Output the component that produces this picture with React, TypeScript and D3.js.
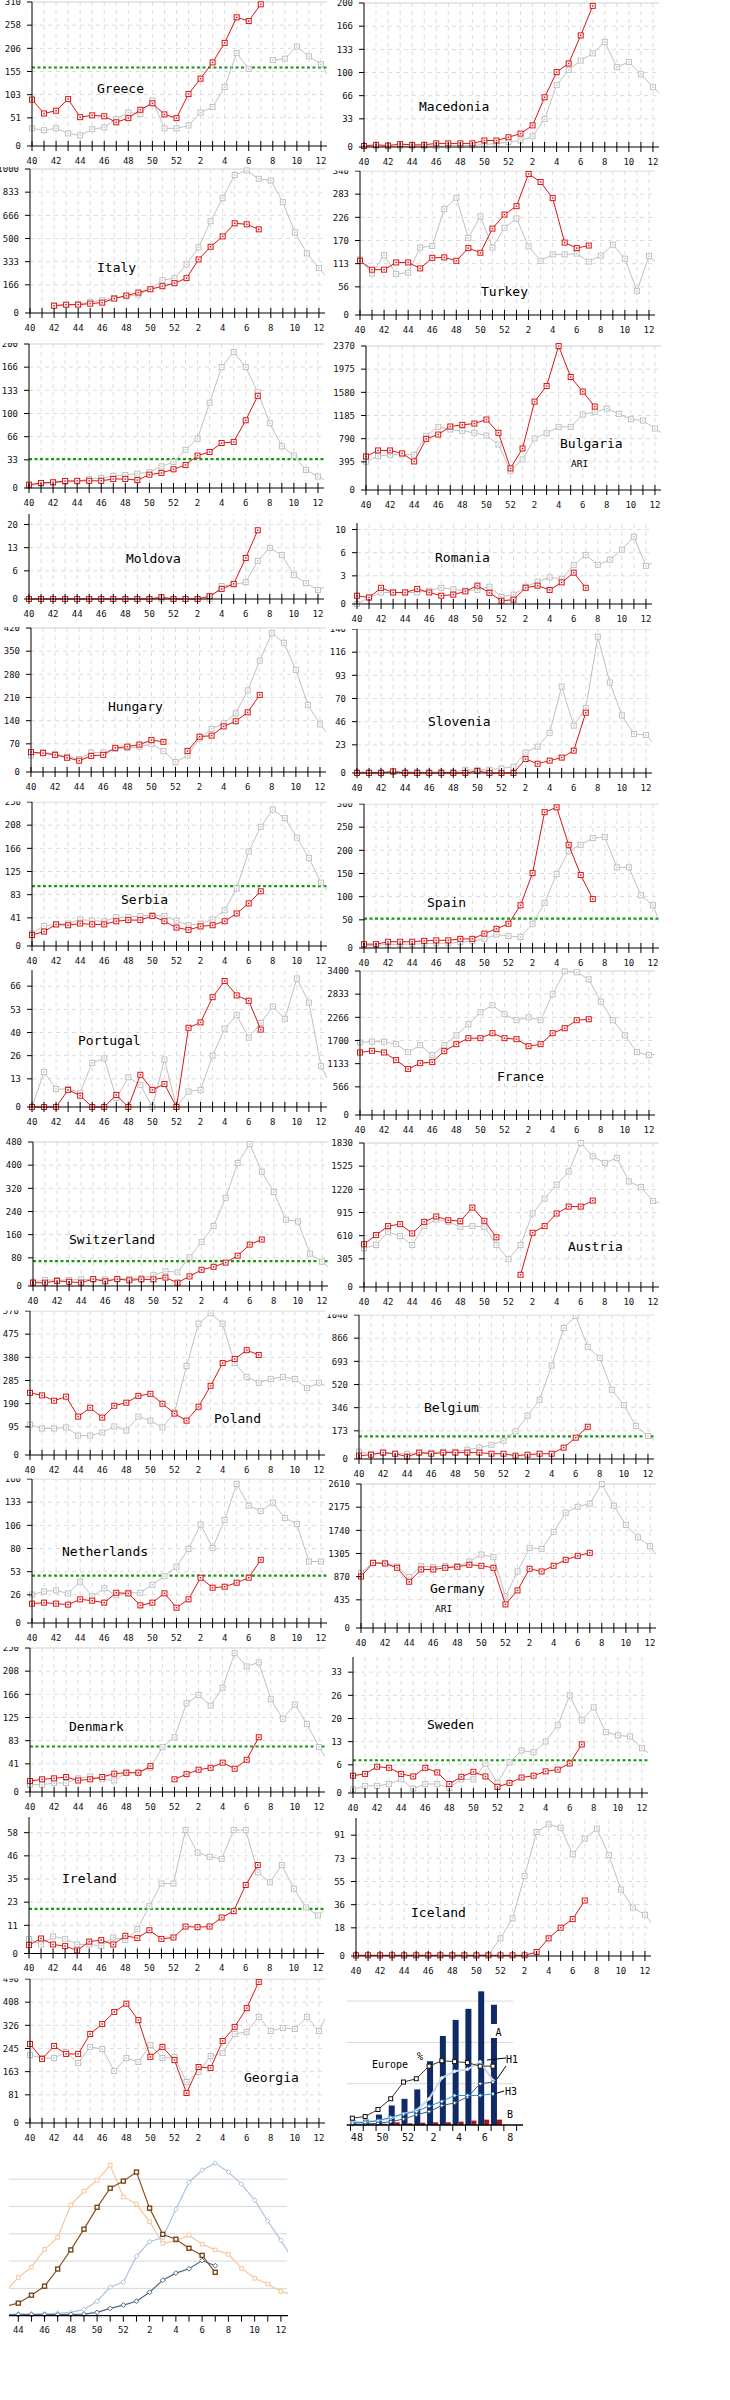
import React from "react";
import * as d3 from "d3";

// weeks 40..52 then 1..13 (index 0..25); current season stops at week 7
const WEEKS = [...d3.range(40, 53), ...d3.range(1, 14)];
const WEEK_TICKS = d3.range(0, 25);
const WEEK_LABELS = d3.range(0, 25, 2);

const greeceNow = [100, 70, 76, 101, 62, 66, 64, 51, 60, 78, 92, 68, 60, 112, 145, 180, 222, 277, 269, 305];
const greecePrev = [38, 34, 38, 27, 23, 36, 40, 58, 72, 69, 98, 38, 38, 44, 72, 84, 127, 200, 166, null, 185, 188, 214, 193, 176, 135];
const macedoniaNow = [1.4, 3, 2, 4, 3, 3, 5, 5, 5, 5, 9, 9, 13.5, 18.6, 30, 69, 104, 116, 155, 196];
const macedoniaPrev = [1, 1, 1, 1, 1, 1, 1.5, 1.5, 2, 2, 3.7, 4.6, 7, 9, 15, 39, 86, 107, 120, 130, 146, 111, 118, 101, 83, 68];
const italyNow = [null, null, 51, 58, 58, 65, 72, 100, 121, 142, 165, 186, 207, 242, 372, 460, 532, 623, 616, 581];
const italyPrev = [null, null, 51, 55, 60, 77, 88, 105, 116, 128, 167, 228, 242, 337, 456, 637, 797, 958, 990, 932, 920, 770, 560, 414, 312, 215];
const turkeyNow = [128, 107, 107, 124, 124, 110, 135, 136, 128, 158, 147, 204, 237, 257, 333, 314, 276, 171, 158, 164];
const turkeyPrev = [131, 98, 141, 97, 100, 159, 163, 250, 277, 182, 233, 159, 206, 228, 162, 128, 143, 143, 145, 126, 140, 166, 133, 57, 139, 115];
const unnamedNow = [4.6, 7, 8, 9.7, 10, 10, 10, 12.5, 12.5, 11, 18.5, 21, 26, 32, 45, 50, 62.5, 64, 94, 128];
const unnamedPrev = [3, 6, 7.4, 8, 9, 12.5, 14, 17, 18, 20, 22, 30, 36, 53, 68.5, 118.5, 168, 189, 168, 133, 90, 58, 45, 25, 16, 7];
const bulgariaNow = [552, 651, 651, 602, 470, 842, 913, 1045, 1072, 1094, 1160, 941, 356, 684, 1455, 1712, 2369, 1860, 1619, 1373];
const bulgariaPrev = [465, 558, 580, 585, 580, 892, 1039, 995, 974, 941, 897, 749, 317, 503, 848, 935, 1039, 1039, 1242, 1285, 1340, 1253, 1165, 1143, 1012, 880];
const moldovaNow = [0, 0, 0, 0, 0, 0, 0, 0, 0, 0, 0, 0.5, 0, 0, 0, 0.8, 2.8, 4.2, 11.4, 19.1];
const moldovaPrev = [0, 0, 0, 0, 0, 0, 0, 0, 0, 0, 0, 0, 0, 0, 0, 0, 3.6, 4.0, 4.7, 10.6, 14.2, 12.2, 6.7, 4.4, 2.5, 4];
const romaniaNow = [1.15, 0.9, 2.25, 1.6, 1.6, 2.1, 1.6, 1.15, 1.3, 1.75, 2.55, 1.55, 0.45, 0.6, 2.25, 2.55, 1.95, 3.0, 4.35, 2.25];
const romaniaPrev = [0, 0.9, 1.6, 1.6, 1.6, 1.6, 1.85, 2.25, 2.05, 1.85, 1.95, 2.4, 1.0, 1.3, 2.4, 3.1, 3.7, 3.5, 5.4, 6.8, 5.45, 6.15, 7.55, 9.35, 5.3, 6.0];
const hungaryNow = [58, 55, 50, 41.5, 33, 47, 50, 70.5, 74, 80, 93, 88, null, 61, 103, 106, 133, 148, 174, 225];
const hungaryPrev = [48, 58, 52, 45, 38, 57, 57, 67, 70, 74, 82, 61, 29, 48, 97.5, 125.5, 142, 171, 238, 325, 405, 377, 298, 196, 139, 95];
const sloveniaNow = [0, 0, 0, 1.6, 0, 0, 0, 0, 0, 0, 2, 0, 0, 0, 13.6, 9, 12, 15, 21.7, 58.6];
const sloveniaPrev = [1, 1, 1, 1, 1, 1, 1, 1, 1, 3, 3, 3, 4.5, 6, 20, 25.6, 39, 84, 46, 63, 132.5, 88, 56, 38, 37, 24];
const serbiaNow = [19, 25, 37.5, 36, 39, 37.5, 37.5, 43, 45, 45, 52, 43, 32, 28, 34, 36, 43, 56.5, 74, 95];
const serbiaPrev = [22, 35, 37.5, 39, 46, 44, 43, 50, 50, 52, 54, 52, 44, 36, 39, 46, 62, 100, 164, 207, 237, 222, 188, 153, 110, 85];
const spainNow = [8, 8, 13, 13, 13, 15, 16, 16, 19, 19, 30, 40, 50.5, 89, 156, 283, 293, 215, 152, 102];
const spainPrev = [5, 6, 7, 8, 8, 9, 10, 10, 12, 14, 19, 28, 25, 23, 50.5, 94, 154, 202, 215, 229, 231, 168, 168, 110, 89, 25];
const portugalNow = [0, 0, 0, 9.5, 6.3, 0, 0, 6.7, 0, 17.9, 9.5, 12.8, 0, 44, 47, 61, 70, 62, 59, 43];
const portugalPrev = [0, 19.5, 10, 10, 8, 24.5, 27, 5, 16.5, 12.3, 0, 26.4, 0, 8.6, 9.5, 28.5, 43.5, 51, 38.5, 46.7, 55.8, 49, 71.4, 58, 22.7, 10];
const franceNow = [1476, 1515, 1476, 1296, 1084, 1225, 1249, 1508, 1672, 1814, 1814, 1932, 1814, 1790, 1625, 1672, 1932, 2049, 2238, 2261];
const francePrev = [1712, 1735, 1727, 1672, 1484, 1649, 1413, 1649, 1884, 2144, 2426, 2591, 2379, 2238, 2308, 2238, 2850, 3392, 3369, 3204, 2678, 2238, 1884, 1484, 1413, 1450];
const switzerlandNow = [11, 11, 17, 14, 11, 23, 15.6, 23, 19, 22, 22, 28, 11, 32, 54, 64, 78, 101, 138, 155];
const switzerlandPrev = [14, 20, 20, 20, 22, 22, 22, 24, 24, 26, 36, 49, 46, 95.5, 147, 200, 294, 410, 473, 381, 313, 221, 215, 108, 81, 45];
const austriaNow = [543, 660, 774, 799, 681, 828, 896, 849, 837, 1010, 841, 631, null, 155, 689, 774, 934, 1022, 1022, 1098];
const austriaPrev = [492, 534, 702, 647, 534, 774, 858, 828, 765, 774, 765, 534, 353, 534, 934, 1123, 1300, 1468, 1830, 1661, 1577, 1641, 1341, 1270, 1093, 1050];
const polandNow = [246, 236, 215, 231, 152, 187, 148, 195, 207, 234, 242, 203, 164, 136, 191, 274, 364, 380, 415, 396];
const polandPrev = [120, 105, 105, 109, 77, 77, 89, 113, 97, 152, 136, 109, 168, 352, 520, 561, 520, 364, 309, 286, 300, 309, 301, 265, 286, 265];
const belgiumNow = [24, 31, 46, 38, 17, 46, 38, 46, 46, 46, 46, 38, 38, 24, 31, 38, 38, 82, 154, 233];
const belgiumPrev = [53, 38, 46, 38, 38, 46, 46, 53, 53, 67, 82, 103, 132, 199, 312, 428, 675, 946, 1033, 810, 730, 500, 389, 238, 166, 105];
const netherlandsNow = [21.5, 22.6, 21.5, 20.4, 26.3, 24.8, 22.6, 33.6, 32.9, 19.6, 22.6, 33, 17, 26.3, 50.3, 39.2, 40.3, 44.8, 50.3, 70.2];
const netherlandsPrev = [31.7, 35, 36.2, 32.9, 46, 29.6, 38.5, 30.7, 33.6, 33.6, 42.5, 52, 62.5, 82.4, 109.4, 83.5, 114.6, 154.5, 130.4, 124.5, 133.7, 116.8, 110, 68.3, 68.3, null];
const germanyNow = [934, 1181, 1169, 1091, 838, 1061, 1061, 1091, 1110, 1146, 1128, 1091, 428, 681, 1073, 1025, 1128, 1236, 1308, 1362];
const germanyPrev = [1001, 1181, 1181, 1115, 922, 1122, 1104, 1122, 1122, 1205, 1332, 1283, 573, 1025, 1453, 1435, 1742, 2089, 2198, 2253, 2610, 2217, 1868, 1644, 1482, 1180];
const denmarkNow = [19, 22, 23.7, 26, 20, 22, 26, 31.8, 33.5, 33.5, 45, null, 22, 31, 38.7, 42, 51, 40.4, 56, 95];
const denmarkPrev = [12.7, 12.7, 15.6, 15.6, 23.7, 27, 22, 20, 33.5, 33.5, 42, 78, 95, 154, 168.6, 150, 181, 241, 218, 225, 161, 127, 152, 118, 78, 45];
const swedenNow = [4.8, 5.3, 7.3, 7, 5.3, 4.6, 7, 5.7, 2.5, 4.5, 5.9, 4.6, 1.7, 2.8, 4.3, 4.8, 6.0, 6.5, 8.2, 13.5];
const swedenPrev = [1, 2, 2, 2.5, 3.8, 1.2, 2.5, 2.5, 1.4, 3.8, 3.8, 8.2, 2.8, 8.5, 11.8, 11.3, 14.3, 18.8, 27.1, 20.2, 23.8, 16.9, 16, 15.7, 12.4, 10];
const irelandNow = [4.1, 7.3, 4.4, 3.6, 1.5, 5.8, 6.5, 4.4, 8.6, 7.5, 11.3, 7.1, 7.8, 13.1, 12.8, 13.1, 17.5, 20.6, 33.3, 43];
const irelandPrev = [7.0, 4.4, 8.3, 7.1, 4.4, 4.4, 3.7, 7.8, 6.5, 11.8, 23, 34, 34, 60, 49, 47, 46, 60, 60, 39.5, 34.6, 43, 31.5, 22.4, 18.5, 23];
const icelandNow = [0.5, 0.5, 0.5, 0.5, 0.5, 0.5, 0.5, 0.5, 0.5, 0.5, 0.5, 0.5, 0.5, 0.5, 0.5, 3, 13.5, 21.6, 28.2, 42.4];
const icelandPrev = [0.5, 0.5, 0.5, 0.5, 0.5, 0.5, 0.5, 0.5, 0.5, 0.5, 0.5, 1, 13.5, 28.7, 61, 94.7, 100.6, 98, 77.7, 89.7, 97.3, 77, 50.8, 37, 31.5, 20];
const georgiaNow = [269, 218, 262, 235, 235, 303, 337, 378, 406, 350, 225, 259, 214, 102, 190.5, 187, 279, 327, 391, 480];
const georgiaPrev = [231, 221, 221, 241.5, 204, 259, 252, 177, 221, 207.5, 265, 221, 225, 139.5, 173.5, 228, 238, 303, 310, 361, 313, 323, 320, 361, 313, 395];

// Europe summary: weeks 48..7
const EU_BINS = [...d3.range(48, 53), ...d3.range(1, 9)];
const EU_WEEKS = [48, 49, 50, 51, 52, 1, 2, 3, 4, 5, 6, 7];
const EU_LABELS = [48, 50, 52, 2, 4, 6, 8];
const euA = [105, 130, 252, 472, 634, 862, 1545, 2155, 2545, 2813, 3236, 2911];
const euB = [10, 15, 30, 65, 41, 57, 65, 65, 81, 106, 130, 130];
const euPct = [3.3, 4.1, 7.5, 12.7, 20.8, 22.4, 28.5, 31.1, 30.7, 30.2, 28.5, 28.5];
const euH1 = [1.3, 1.6, 2.1, 3.3, 5.4, 7.0, 12.7, 22.8, 26.0, 27.0, 30.6, 21.6];
const euDark = [0.3, 0.5, 0.8, 1.6, 2.9, 4.9, 6.5, 9.4, 10.7, 13.5, 20.0, 20.8];
const euH3 = [1.0, 1.3, 2.1, 3.7, 5.4, 6.5, 9.1, 11.4, 14.3, 14.3, 14.3, 15.1];

// season comparison: weeks 43..13
const SEASON_WEEKS = [...d3.range(43, 53), ...d3.range(1, 14)];
const SEASON_LABELS = [44, 46, 48, 50, 52, 2, 4, 6, 8, 10, 12];
const seasonOrange = [8.8, 14.0, 17.8, 24.3, 28.7, 40.6, 45.6, 49.6, 55.1, 43.5, 40.9, 34.4, 26.5, 27.4, 29.5, 26.2, 24.1, 22.5, 17.4, 13.7, 11.6, 8.9, 7.5];
const seasonBrown = [3.5, 4.6, 7.5, 10.8, 17.1, 24.1, 31.7, 39.7, 46.7, 49.3, 52.6, 39.4, 29.8, 28.0, 24.7, 22.1, 15.9];
const seasonBlue = [0.5, 0.6, 0.6, 0.7, 0.9, 1.2, 2.3, 5.3, 10.5, 12.3, 21.8, 27.1, 28.6, 38.9, 48.9, 53.3, 55.9, 52.6, 48.2, 42.3, 34.7, 27.6, 20];
const seasonDark = [0.3, 0.4, 0.4, 0.4, 0.4, 0.5, 0.6, 1.2, 2.7, 3.9, 5.3, 8.6, 13.0, 15.6, 17.2, 20.2, 18.3];

type Val = number | null;
interface Panel {
  name: string;
  sub?: string;
  now: Val[];
  prev: Val[];
  max: number;
  green?: number;
  axisX: number;
  base: number;
  clip: number;
  nameX: number;
  nameY: number;
  subX?: number;
  subY?: number;
}

const PANELS: Panel[] = [
  { name: "Greece", now: greeceNow, prev: greecePrev, max: 310, green: 169, axisX: 32, base: 146, clip: 0, nameX: 97, nameY: 88 },
  { name: "Macedonia", now: macedoniaNow, prev: macedoniaPrev, max: 200, axisX: 364, base: 147, clip: 0, nameX: 419, nameY: 106 },
  { name: "Italy", now: italyNow, prev: italyPrev, max: 1000, axisX: 30, base: 313, clip: 167, nameX: 97, nameY: 267 },
  { name: "Turkey", now: turkeyNow, prev: turkeyPrev, max: 340, axisX: 360, base: 315, clip: 170.5, nameX: 481, nameY: 291 },
  { name: "", now: unnamedNow, prev: unnamedPrev, max: 200, green: 40, axisX: 29, base: 488, clip: 343, nameX: 0, nameY: 0 },
  { name: "Bulgaria", sub: "ARI", now: bulgariaNow, prev: bulgariaPrev, max: 2370, axisX: 366, base: 490, clip: 340, nameX: 560, nameY: 443, subX: 571, subY: 463 },
  { name: "Moldova", now: moldovaNow, prev: moldovaPrev, max: 40, axisX: 29, base: 599, clip: 514, nameX: 126, nameY: 558 },
  { name: "Romania", now: romaniaNow, prev: romaniaPrev, max: 20, axisX: 357, base: 604, clip: 523, nameX: 435, nameY: 557 },
  { name: "Hungary", now: hungaryNow, prev: hungaryPrev, max: 420, axisX: 31, base: 772, clip: 627, nameX: 108, nameY: 706 },
  { name: "Slovenia", now: sloveniaNow, prev: sloveniaPrev, max: 140, axisX: 357, base: 773, clip: 629, nameX: 428, nameY: 721 },
  { name: "Serbia", now: serbiaNow, prev: serbiaPrev, max: 250, green: 104, axisX: 32, base: 946, clip: 801.5, nameX: 121, nameY: 899 },
  { name: "Spain", now: spainNow, prev: spainPrev, max: 300, green: 61, axisX: 364, base: 948, clip: 803.5, nameX: 427, nameY: 902 },
  { name: "Portugal", now: portugalNow, prev: portugalPrev, max: 80, axisX: 32, base: 1107, clip: 970, nameX: 78, nameY: 1040 },
  { name: "France", now: franceNow, prev: francePrev, max: 3400, axisX: 360, base: 1115, clip: 966, nameX: 497, nameY: 1076 },
  { name: "Switzerland", now: switzerlandNow, prev: switzerlandPrev, max: 480, green: 83, axisX: 33, base: 1286, clip: 1137, nameX: 69, nameY: 1239 },
  { name: "Austria", now: austriaNow, prev: austriaPrev, max: 1830, axisX: 364, base: 1287, clip: 1138, nameX: 568, nameY: 1246 },
  { name: "Poland", now: polandNow, prev: polandPrev, max: 570, axisX: 30, base: 1455, clip: 1310.5, nameX: 214, nameY: 1418 },
  { name: "Belgium", now: belgiumNow, prev: belgiumPrev, max: 1040, green: 163, axisX: 359, base: 1459, clip: 1314.5, nameX: 424, nameY: 1407 },
  { name: "Netherlands", now: netherlandsNow, prev: netherlandsPrev, max: 160, green: 52.7, axisX: 32, base: 1623, clip: 1478.5, nameX: 62, nameY: 1551 },
  { name: "Germany", sub: "ARI", now: germanyNow, prev: germanyPrev, max: 2610, axisX: 361, base: 1628, clip: 1479, nameX: 430, nameY: 1588, subX: 435, subY: 1608 },
  { name: "Denmark", now: denmarkNow, prev: denmarkPrev, max: 250, green: 79, axisX: 30, base: 1792, clip: 1647, nameX: 69, nameY: 1726 },
  { name: "Sweden", now: swedenNow, prev: swedenPrev, max: 40, green: 9.1, axisX: 353, base: 1793, clip: 1657, nameX: 427, nameY: 1724 },
  { name: "Ireland", now: irelandNow, prev: irelandPrev, max: 70, green: 21.7, axisX: 29, base: 1953.5, clip: 1817, nameX: 62, nameY: 1878 },
  { name: "Iceland", now: icelandNow, prev: icelandPrev, max: 110, axisX: 356, base: 1956, clip: 1818, nameX: 411, nameY: 1912 },
  { name: "Georgia", now: georgiaNow, prev: georgiaPrev, max: 490, axisX: 30, base: 2123, clip: 1978.5, nameX: 244, nameY: 2077 },
];

const MONO = "'DejaVu Sans Mono', 'Liberation Mono', monospace";
const STEP = 12.04;
const PLOT_W = 295;
const H = 144;
const RED = "#dc1414";
const GRAY = "#c0c0c0";

function CountryPanel({ p, id }: { p: Panel; id: number }) {
  const top = p.base - H;
  const x = d3.scaleLinear().domain([0, 24]).range([p.axisX, p.axisX + 24 * STEP]);
  const y = d3.scaleLinear().domain([0, p.max]).range([p.base, top]);
  // gridlines sit a little above the zero line, as in the original
  const grid = d3.scaleLinear().domain([0, p.max]).range([p.base - 5, top]);
  const levels = d3.range(7).map((k) => (p.max * k) / 6);
  const ly = (k: number) => (k === 0 ? p.base : grid(levels[k]));
  const right = p.axisX + PLOT_W;
  const line = d3
    .line<Val>()
    .defined((d) => d != null)
    .x((_, i) => x(i))
    .y((d) => y(d as number));

  const marks = (vals: Val[], color: string) =>
    vals.map((v, i) =>
      v == null || i > 24 ? null : (
        <g key={i}>
          <rect x={x(i) - 2.5} y={y(v) - 2.5} width={5} height={5} fill="#fff" stroke={color} strokeWidth={1} />
          <rect x={x(i) - 0.75} y={y(v) - 0.75} width={1.5} height={1.5} fill={color} />
        </g>
      )
    );

  return (
    <g>
      <defs>
        <clipPath id={`panel${id}`}>
          <rect x={p.axisX - 40} y={p.clip} width={PLOT_W + 45} height={p.base + 22 - p.clip} />
        </clipPath>
        <clipPath id={`plot${id}`}>
          <rect x={p.axisX - 4} y={top - 10} width={PLOT_W + 4} height={H + 20} />
        </clipPath>
      </defs>
      <g clipPath={`url(#panel${id})`}>
        <line x1={p.axisX} x2={right} y1={top} y2={top} stroke="#cfcfcf" />
        {d3.range(1, 6).map((k) => (
          <line key={k} x1={p.axisX} x2={right} y1={ly(k)} y2={ly(k)} stroke="#dcdcdc" strokeDasharray="4,4" />
        ))}
        {WEEK_TICKS.slice(1).map((i) => (
          <line key={i} x1={x(i)} x2={x(i)} y1={top} y2={p.base} stroke="#dcdcdc" strokeDasharray="4,4" />
        ))}
        {p.green != null && (
          <line x1={p.axisX} x2={right} y1={y(p.green)} y2={y(p.green)} stroke="#169a16" strokeWidth={2.2} strokeDasharray="3,2.5" />
        )}
        <g clipPath={`url(#plot${id})`}>
          <path d={line(p.prev) || ""} fill="none" stroke={GRAY} strokeWidth={1} />
          {marks(p.prev, GRAY)}
          <path d={line(p.now) || ""} fill="none" stroke={RED} strokeWidth={1} />
          {marks(p.now, RED)}
        </g>
        <line x1={p.axisX} x2={p.axisX} y1={p.base} y2={Math.max(top, p.clip)} stroke="#000" />
        {levels.map((v, k) => (
          <g key={k}>
            <line x1={p.axisX - 5} x2={p.axisX} y1={ly(k)} y2={ly(k)} stroke="#000" />
            <text x={p.axisX - 11} y={ly(k) + 3.3} textAnchor="end" fontSize={9} fontFamily={MONO} fill="#111">
              {Math.floor(v)}
            </text>
          </g>
        ))}
        <line x1={p.axisX} x2={right} y1={p.base} y2={p.base} stroke="#000" />
        {WEEK_TICKS.map((i) => (
          <line key={i} x1={x(i)} x2={x(i)} y1={p.base - 5} y2={p.base + 5} stroke="#000" />
        ))}
        {WEEK_LABELS.map((i) => (
          <text key={i} x={x(i)} y={p.base + 17.5} textAnchor="middle" fontSize={9} fontFamily={MONO} fill="#111">
            {WEEKS[i]}
          </text>
        ))}
        {p.name && (
          <text x={p.nameX} y={p.nameY + 4.6} fontSize={13} fontFamily={MONO} fill="#000">
            {p.name}
          </text>
        )}
        {p.sub && (
          <text x={p.subX} y={(p.subY || 0) + 3.5} fontSize={9.5} fontFamily={MONO} fill="#000">
            {p.sub}
          </text>
        )}
      </g>
    </g>
  );
}

function diamond(cx: number, cy: number, r: number) {
  return `M${cx},${cy - r}L${cx + r},${cy}L${cx},${cy + r}L${cx - r},${cy}Z`;
}

function EuropePanel() {
  const base = 2125;
  const x = d3.scaleBand<number>().domain(EU_BINS).range([350.5, 350.5 + EU_BINS.length * 12.78]);
  const c = (w: number) => (x(w) as number) + x.bandwidth() / 2;
  const yN = d3.scaleLinear().domain([0, 1000]).range([base, base - 41.3]);
  const yP = d3.scaleLinear().domain([0, 20]).range([base, base - 41.3]);
  const px = (i: number) => c(EU_WEEKS[i]) - 4.5;
  const line = (vals: number[]) =>
    d3
      .line<number>()
      .x((_, i) => px(i))
      .y((d) => yP(d))(vals) || "";
  const diamonds = (vals: number[], color: string, r: number) =>
    vals.map((v, i) => <path key={i} d={diamond(px(i), yP(v), r)} fill="#fff" stroke={color} strokeWidth={1} />);

  return (
    <g>
      {[1000, 2000, 3000].map((v) => (
        <line key={v} x1={346.7} x2={513} y1={yN(v)} y2={yN(v)} stroke="#d8d8d8" />
      ))}
      {euA.map((v, i) => (
        <rect key={i} x={c(EU_WEEKS[i]) - 6.5} y={yN(v)} width={6} height={base - yN(v)} fill="#0f2a66" />
      ))}
      {euB.map((v, i) => (
        <rect key={i} x={c(EU_WEEKS[i]) - 0.5} y={yN(v)} width={5} height={base - yN(v)} fill="#b01212" />
      ))}
      <rect x={491} y={2024} width={13} height={14} fill="#fff" />
      <path d={line(euH1)} fill="none" stroke="#c8d7ec" strokeWidth={2} />
      {diamonds(euH1, "#c8d7ec", 1.8)}
      <path d={line(euDark)} fill="none" stroke="#3d5a7c" strokeWidth={1} />
      {diamonds(euDark, "#3d5a7c", 1.8)}
      <path d={line(euH3)} fill="none" stroke="#2f8ad0" strokeWidth={1} />
      {diamonds(euH3, "#2f8ad0", 1.8)}
      <path d={line(euPct)} fill="none" stroke="#333" strokeWidth={1} />
      {euPct.map((v, i) => (
        <rect key={i} x={px(i) - 2} y={yP(v) - 2} width={4} height={4} fill="#fff" stroke="#111" />
      ))}
      <line x1={346.7} x2={523} y1={base} y2={base} stroke="#000" strokeWidth={1.4} />
      {d3.range(EU_BINS.length + 1).map((j) => (
        <line key={j} x1={350.5 + j * 12.78} x2={350.5 + j * 12.78} y1={base} y2={base + 6} stroke="#000" />
      ))}
      {EU_LABELS.map((w) => (
        <text key={w} x={c(w)} y={2141} textAnchor="middle" fontSize={10} fontFamily={MONO} fill="#111">
          {w}
        </text>
      ))}
      <text x={372} y={2068} fontSize={10} fontFamily={MONO} fill="#000">Europe</text>
      <text x={417} y={2060} fontSize={10} fontFamily={MONO} fill="#000">%</text>
      <text x={498.5} y={2035.5} textAnchor="middle" fontSize={10} fontFamily={MONO} fill="#000">A</text>
      <text x={510} y={2118} textAnchor="middle" fontSize={10} fontFamily={MONO} fill="#000">B</text>
      <line x1={487} y1={2060} x2={506} y2={2058} stroke="#000" />
      <line x1={497} y1={2079} x2={506} y2={2066} stroke="#000" />
      <text x={506} y={2062.5} fontSize={10} fontFamily={MONO} fill="#000">H1</text>
      <line x1={494} y1={2094} x2={504} y2={2091} stroke="#000" />
      <text x={505} y={2094.5} fontSize={10} fontFamily={MONO} fill="#000">H3</text>
    </g>
  );
}

function SeasonPanel() {
  const base = 2315.7;
  const x = d3.scaleLinear().domain([1, 21]).range([18.3, 280.9]);
  const y = d3.scaleLinear().domain([0, 10]).range([base, base - 27.3]);
  const line = (vals: number[]) =>
    d3
      .line<number>()
      .x((_, i) => x(i))
      .y((d) => y(d))(vals) || "";
  const squares = (vals: number[], color: string, s: number, w: number) =>
    vals.map((v, i) =>
      i === 0 ? null : (
        <rect key={i} x={x(i) - s / 2} y={y(v) - s / 2} width={s} height={s} fill="#fff" stroke={color} strokeWidth={w} />
      )
    );
  const diamonds = (vals: number[], color: string) =>
    vals.map((v, i) => (i === 0 ? null : <path key={i} d={diamond(x(i), y(v), 2.4)} fill="#fff" stroke={color} />));
  const idx = (w: number) => SEASON_WEEKS.indexOf(w);

  return (
    <g>
      <defs>
        <clipPath id="seasonClip">
          <rect x={9} y={2140} width={279} height={190} />
        </clipPath>
      </defs>
      {[10, 20, 30, 40, 50].map((v) => (
        <line key={v} x1={9} x2={287} y1={y(v)} y2={y(v)} stroke="#d8d8d8" />
      ))}
      <g clipPath="url(#seasonClip)">
        <path d={line(seasonOrange)} fill="none" stroke="#f6c79c" strokeWidth={1.2} />
        {squares(seasonOrange, "#f6c79c", 3.6, 1)}
        <path d={line(seasonBlue)} fill="none" stroke="#a9c2de" strokeWidth={1.2} />
        {diamonds(seasonBlue, "#a9c2de")}
        <path d={line(seasonBrown)} fill="none" stroke="#8a5320" strokeWidth={1.2} />
        {squares(seasonBrown, "#7a4818", 4, 1.4)}
        <path d={line(seasonDark)} fill="none" stroke="#4d6888" strokeWidth={1.2} />
        {diamonds(seasonDark, "#4d6888")}
      </g>
      <line x1={9} x2={288} y1={base} y2={base} stroke="#000" strokeWidth={1.2} />
      {d3.range(1, 22).map((i) => (
        <line key={i} x1={x(i)} x2={x(i)} y1={base} y2={base + 6} stroke="#000" />
      ))}
      {SEASON_LABELS.map((w) => (
        <text key={w} x={x(idx(w))} y={2332.5} textAnchor="middle" fontSize={9} fontFamily={MONO} fill="#111">
          {w}
        </text>
      ))}
    </g>
  );
}

export default function App() {
  return (
    <svg
      width={730}
      height={2400}
      style={{ position: "absolute", left: 0, top: 0, background: "#fff" }}
    >
      <rect width={730} height={2400} fill="#fff" />
      {PANELS.map((p, i) => (
        <CountryPanel key={i} p={p} id={i} />
      ))}
      <EuropePanel />
      <SeasonPanel />
    </svg>
  );
}
